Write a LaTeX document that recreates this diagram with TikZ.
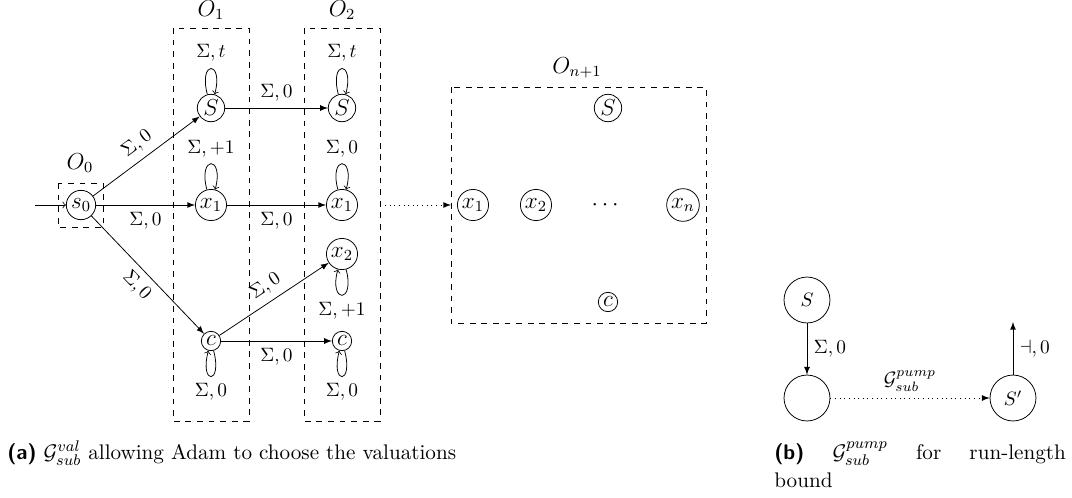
\documentclass[tikz,border=0pt]{standalone}
\usepackage{amsmath,amssymb}
\usepackage{tikz}
\usetikzlibrary{arrows}
\tikzstyle{st}=[draw,circle,inner sep=1pt,font=\large]
\tikzstyle{bigst}=[draw,circle,minimum size=23.8pt,inner sep=0pt]
\tikzstyle{box}=[draw,dashed]
\tikzstyle{boxlabel}=[font=\large]
\tikzstyle{tr}=[-latex]
\tikzstyle{captext}=[inner sep=0pt,font=\fontsize{10.95}{15}\selectfont]

\begin{document}
\begin{tikzpicture}[x=0.518pt,y=-0.518pt,every loop/.style={->,min distance=6.5mm}]
        \useasboundingbox (0,0) rectangle (1072,497);
        \draw[box] (58,183) rectangle (103,227);
        \node[boxlabel] (o0) at (80,163) {$O_0$};
        \node[st] (s0) at (81,205) {$s_0$};
        \coordinate (init) at (35,205);
        \draw[->] (init) -- (s0);
        \foreach \x/\i in {211/1,342/2}{
          \draw[box] (\x-38,28) rectangle (\x+38,421);
          \node[boxlabel] (o\i) at (\x,10) {$O_\i$};
          \node[st] (S\i) at (\x,108) {$S$};
          \node[st] (xa\i) at (\x,205) {$x_1$};
          \node[st] (c\i) at (\x,341) {$c$};
        }
        \node[st] (xb2) at (342,254) {$x_2$};
        \draw (S1) edge[loop above] node[above] {$\Sigma,t$} (S1);
        \draw (S2) edge[loop above] node[above] {$\Sigma,t$} (S2);
        \draw (xa1) edge[loop above] node[above] {$\Sigma,+1$} (xa1);
        \draw (xa2) edge[loop above] node[above] {$\Sigma,0$} (xa2);
        \draw (xb2) edge[loop below] node[below] {$\Sigma,+1$} (xb2);
        \draw (c1) edge[loop below] node[below] {$\Sigma,0$} (c1);
        \draw (c2) edge[loop below] node[below] {$\Sigma,0$} (c2);
        \draw[tr] (s0) -- node[above,sloped] {$\Sigma,0$} (S1);
        \draw[tr] (s0) -- node[below] {$\Sigma,0$} (xa1);
        \draw[tr] (s0) -- node[below,sloped] {$\Sigma,0$} (c1);
        \draw[tr] (S1) -- node[above] {$\Sigma,0$} (S2);
        \draw[tr] (xa1) -- node[below] {$\Sigma,0$} (xa2);
        \draw[tr] (c1) -- node[above,sloped] {$\Sigma,0$} (xb2);
        \draw[tr] (c1) -- node[below] {$\Sigma,0$} (c2);
        \draw[box] (451,87) rectangle (706,323);
        \node[boxlabel] (on) at (577,68) {$O_{n+1}$};
        \node[st] (Sn) at (608,108) {$S$};
        \node[st] (y1) at (473,205) {$x_1$};
        \node[st] (y2) at (536,205) {$x_2$};
        \node[boxlabel] (dots) at (607,205) {$\cdots$};
        \node[st] (yn) at (683,205) {$x_n$};
        \node[st] (cn) at (608,302) {$c$};
        \coordinate (d1) at (385,205);
        \coordinate (d2) at (451,205);
        \draw[dotted,-latex] (d1) -- (d2);
        \node[bigst] (P) at (807,300) {$S$};
        \node[bigst] (Q) at (807,398) {};
        \node[bigst] (R) at (1013,398) {$S'$};
        \coordinate (out) at (1013,322);
        \draw[tr] (P) -- node[right] {$\Sigma,0$} (Q);
        \draw[dotted,-latex] (Q) -- node[above] {$\mathcal{G}^{pump}_{sub}$} (R);
        \draw[tr] (R) -- node[right] {$\dashv,0$} (out);
        \node[captext,anchor=base west] (capa) at (7,459) {\textsf{\bfseries (a)} $\mathcal{G}^{val}_{sub}$ allowing Adam to choose the valuations};
        \node[captext,anchor=base west,text width=151pt,align=justify] (capb) at (774,459) {\textsf{\bfseries (b)} $\mathcal{G}^{pump}_{sub}$ for run-length\linebreak bound};
      \end{tikzpicture}
\end{document}
